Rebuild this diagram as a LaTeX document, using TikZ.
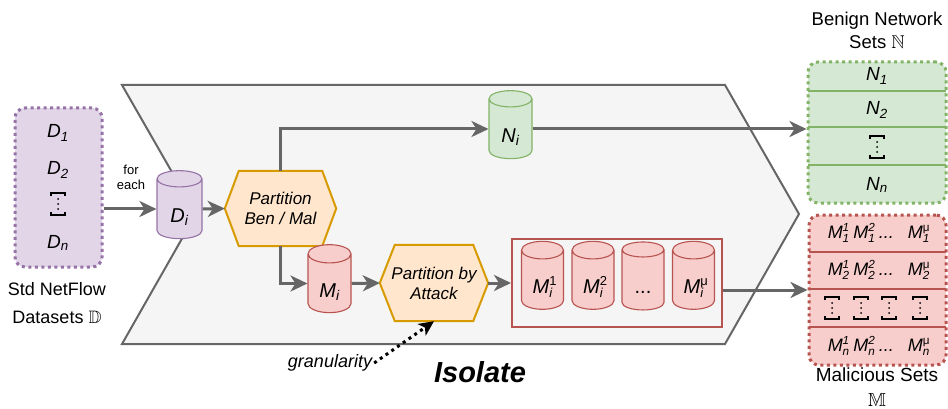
\documentclass[tikz,border=0pt]{standalone}
\usepackage{fontspec}
\setmainfont{Liberation Sans}
\usepackage{amssymb}
\usetikzlibrary{arrows.meta,shapes.geometric}

\definecolor{chevfill}{HTML}{F5F5F5}
\definecolor{edgegray}{HTML}{666666}
\definecolor{purplefill}{HTML}{E1D5E7}
\definecolor{purpleline}{HTML}{9673A6}
\definecolor{greenfill}{HTML}{D5E8D4}
\definecolor{greenline}{HTML}{82B366}
\definecolor{redfill}{HTML}{F8CECC}
\definecolor{redline}{HTML}{B85450}
\definecolor{orangefill}{HTML}{FFE6CC}
\definecolor{orangeline}{HTML}{D79B00}

\pgfdeclarelayer{back}
\pgfsetlayers{back,main}

\newcommand\fsz[2]{\fontsize{#1}{#2}\selectfont}
% stacked super- and subscript after a letter
\newcommand\supsub[2]{\rlap{\raisebox{0.42em}{\fsz{0.65em}{0.65em}#1}}\raisebox{-0.22em}{\fsz{0.65em}{0.65em}#2}}

\tikzset{
  chevron/.style={fill=chevfill, draw=edgegray, line width=2pt, line join=miter},
  dotbox/.style={rounded corners=10pt, line width=3pt, dash pattern=on 3pt off 3.5pt},
  cyl/.style={cylinder, shape border rotate=90, aspect=0.9, draw, line width=1.1pt,
    inner sep=0pt, text height=27pt, text depth=0pt, font=\fsz{20}{24}\itshape},
  hexnode/.style={draw=none, inner sep=0pt, align=center, font=\fsz{17}{20}\itshape},
  hexshape/.style={fill=orangefill, draw=orangeline, line width=2pt, line join=miter},
  flow/.style={draw=edgegray, line width=3pt, -{Stealth[length=17pt,width=16pt,inset=5pt]}},
  hint/.style={draw=black, line width=3pt, dash pattern=on 3pt off 4pt,
    -{Stealth[length=15pt,width=14pt,inset=4pt]}},
  setlabel/.style={inner sep=0pt, font=\fsz{19}{22}\itshape},
  rowlabel/.style={inner sep=0pt, font=\fsz{18}{20}\itshape},
  caption/.style={align=center, inner sep=0pt},
  vdotsbrk/.pic={
    \draw[line width=1.2pt] (-7,-8) -- (-7,-11) -- (7,-11) -- (7,-8);
    \draw[line width=1.2pt] (-7,8) -- (-7,11) -- (7,11) -- (7,8);
    \fill (0,-5) circle (1) (0,0) circle (1) (0,5) circle (1);
  }
}

\begin{document}
\begin{tikzpicture}[x=1pt, y=-1pt]
\useasboundingbox (0,0) rectangle (948,409);

% the "Isolate" stage outline
\begin{pgfonlayer}{back}
  \draw[chevron] (122,85) -- (725,85) -- (799,214) -- (725,344) -- (122,344) -- (196,214) -- cycle;
\end{pgfonlayer}

% input datasets
\node[dotbox, fill=purplefill, draw=purpleline, minimum width=87pt, minimum height=159pt] (dsets) at (58.5,187.5) {};
\node[setlabel] (d1) at (58,133) {D\textsubscript{1}};
\node[setlabel] (d2) at (58,170) {D\textsubscript{2}};
\pic at (58,204) {vdotsbrk};
\node[setlabel] (dn) at (58,243) {D\textsubscript{n}};
\node[caption, font=\fsz{18}{28}] (dcap) at (57,303) {Std NetFlow\\Datasets $\mathbb{D}$};
\node[caption, font=\fsz{13}{15}] (foreach) at (131,177) {for\\each};

% benign / malicious split
\node[cyl, fill=purplefill, draw=purpleline, minimum width=45pt, minimum height=68pt] (di) at (179.5,209) {D\textsubscript{i}};
\node[hexnode, minimum width=111pt, minimum height=75pt] (hexa) at (280.5,208.5) {Partition\\Ben / Mal};
\node[cyl, fill=greenfill, draw=greenline, minimum width=43pt, minimum height=68pt] (ni) at (510.5,129) {N\textsubscript{i}};
\node[cyl, fill=redfill, draw=redline, minimum width=43pt, minimum height=68pt] (mi) at (329.5,283.5) {M\textsubscript{i}};
\node[hexnode, minimum width=108pt, minimum height=76pt] (hexb) at (434,283) {Partition by\\Attack};

\begin{pgfonlayer}{back}
  \draw[hexshape] (hexa.west) -- ([xshift=14pt]hexa.north west) -- ([xshift=-14pt]hexa.north east)
    -- (hexa.east) -- ([xshift=-14pt]hexa.south east) -- ([xshift=14pt]hexa.south west) -- cycle;
  \draw[hexshape] (hexb.west) -- ([xshift=15pt]hexb.north west) -- ([xshift=-15pt]hexb.north east)
    -- (hexb.east) -- ([xshift=-15pt]hexb.south east) -- ([xshift=15pt]hexb.south west) -- cycle;
\end{pgfonlayer}

% per-attack malicious subsets
\node[draw=redline, fill=chevfill, line width=2pt, minimum width=210pt, minimum height=88pt] (mgroup) at (617,283) {};
\node[cyl, fill=redfill, draw=redline, minimum width=42pt, minimum height=68pt] (m1) at (542.5,280) {M\supsub{\upshape 1}{i}};
\node[cyl, fill=redfill, draw=redline, minimum width=42pt, minimum height=68pt] (m2) at (593,280) {M\supsub{\upshape 2}{i}};
\node[cyl, fill=redfill, draw=redline, minimum width=42pt, minimum height=68pt, font=\fsz{20}{24}] (m3) at (643,280) {...};
\node[cyl, fill=redfill, draw=redline, minimum width=42pt, minimum height=68pt] (m4) at (693.5,280) {M\supsub{\upshape μ}{i}};

% benign network sets
\node[dotbox, fill=greenfill, draw=greenline, minimum width=138pt, minimum height=141pt] (nset) at (877,132.5) {};
\draw[greenline, line width=2pt] (808,91) -- (946,91) (808,127) -- (946,127) (808,165) -- (946,165);
\node[setlabel] (n1) at (877,76) {N\textsubscript{1}};
\node[setlabel] (n2) at (877,110) {N\textsubscript{2}};
\pic at (877,147) {vdotsbrk};
\node[setlabel] (nn) at (877,185) {N\textsubscript{n}};
\node[caption, font=\fsz{18.5}{23}] (ncap) at (877,30) {Benign Network\\Sets $\mathbb{N}$};

% malicious sets
\node[dotbox, fill=redfill, draw=redline, minimum width=137pt, minimum height=150pt] (mset) at (877.5,290) {};
\draw[redline, line width=2pt] (809,252) -- (946,252) (809,289) -- (946,289) (809,327) -- (946,327);
\node[rowlabel] (row1) at (878.5,233) {M\supsub{1}{1}\hspace{4pt}M\supsub{2}{1}\hspace{4pt}...\hspace{14pt}M\supsub{\upshape μ}{1}};
\node[rowlabel] (row2) at (878.5,270) {M\supsub{1}{2}\hspace{4pt}M\supsub{2}{2}\hspace{4pt}...\hspace{14pt}M\supsub{\upshape μ}{2}};
\pic at (832,308) {vdotsbrk};
\pic at (861,308) {vdotsbrk};
\pic at (889,308) {vdotsbrk};
\pic at (920,308) {vdotsbrk};
\node[rowlabel] (rown) at (878.5,346) {M\supsub{1}{n}\hspace{4pt}M\supsub{2}{n}\hspace{4pt}...\hspace{14pt}M\supsub{\upshape μ}{n}};
\node[caption, font=\fsz{19}{25}] (mcap) at (877,387) {Malicious Sets\\$\mathbb{M}$};

% flows
\draw[flow] (dsets.east |- di.west) -- (di.west);
\draw[flow] (di.east) -- (hexa.west);
\draw[flow] (hexa.north) |- (ni.west);
\draw[flow] (hexa.south) |- (mi.west);
\draw[flow] (mi.east) -- (hexb.west);
\draw[flow] (hexb.east) -- (mgroup.west);
\draw[flow] (ni.east) -- (ni.east -| nset.west);
\draw[flow] (mgroup.east |- mset.west) -- (mset.west);

% granularity hint and stage title
\node[inner sep=2pt, font=\fsz{18}{20}\itshape] (gran) at (330,363) {granularity};
\draw[hint] (gran.east) -- (hexb.south);
\node[inner sep=0pt, font=\fsz{29}{32}\bfseries\itshape] (isolate) at (480,372) {Isolate};
\end{tikzpicture}
\end{document}
